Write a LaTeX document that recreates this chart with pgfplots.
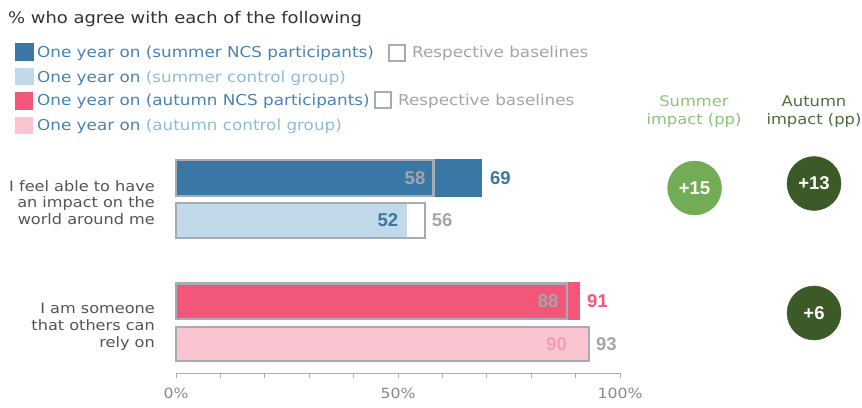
\documentclass[border=0pt]{standalone}
\usepackage{pgfplots}
\pgfplotsset{compat=1.18}
\usepackage{fontspec}
\setmainfont[FakeStretch=1.12]{DejaVu Sans}
\newfontfamily\numfont{Liberation Sans}
\definecolor{ncsblue}{HTML}{3A77A4}
\definecolor{ctlblue}{HTML}{C2D9EA}
\definecolor{legblue}{HTML}{4A82B4}
\definecolor{leglight}{HTML}{8FBBDB}
\definecolor{ncspink}{HTML}{F25678}
\definecolor{ctlpink}{HTML}{FAC4D0}
\definecolor{numpink}{HTML}{F59DB2}
\definecolor{basegray}{HTML}{A5ACB4}
\definecolor{txtgray}{HTML}{A0A6AD}
\definecolor{titlegray}{HTML}{333333}
\definecolor{catgray}{HTML}{555555}
\definecolor{tickgray}{HTML}{888888}
\definecolor{sumgreen}{HTML}{72AD55}
\definecolor{sumtext}{HTML}{8DC27A}
\definecolor{autgreen}{HTML}{3B5A28}
\definecolor{auttext}{HTML}{4F6E3E}
\newcommand{\lf}{\fontsize{15}{18}\selectfont}
\newcommand{\nf}{\numfont\bfseries\fontsize{18.5}{20}\selectfont}
\begin{document}
\begin{tikzpicture}
\path[use as bounding box] (0pt,0pt) rectangle (862pt,-407pt);
% title
\node[anchor=base west, inner sep=0, text=titlegray, font=\fontsize{16}{19}\selectfont] at (8pt,-23.5pt) {\% who agree with each of the following};
% legend swatches
\fill[ncsblue] (15pt,-43pt) rectangle (34pt,-61pt);
\fill[ctlblue] (15pt,-68pt) rectangle (34pt,-85pt);
\fill[ncspink] (15pt,-92pt) rectangle (33pt,-110pt);
\fill[ctlpink] (15pt,-117pt) rectangle (33pt,-134pt);
\draw[basegray, line width=2pt] (389pt,-45pt) rectangle (405pt,-61pt);
\draw[basegray, line width=2pt] (375pt,-92pt) rectangle (391pt,-108pt);
% legend texts
\node[anchor=base west, inner sep=0, font=\lf, text=legblue] at (37pt,-57.5pt) {One year on (summer NCS participants)};
\node[anchor=base west, inner sep=0, font=\lf] at (37pt,-82pt) {\textcolor{legblue}{One year on} \textcolor{leglight}{(summer control group)}};
\node[anchor=base west, inner sep=0, font=\lf, text=legblue] at (37pt,-105.5pt) {One year on (autumn NCS participants)};
\node[anchor=base west, inner sep=0, font=\lf] at (37pt,-130pt) {\textcolor{legblue}{One year on} \textcolor{leglight}{(autumn control group)}};
\node[anchor=base west, inner sep=0, font=\lf, text=txtgray] at (412pt,-57.5pt) {Respective baselines};
\node[anchor=base west, inner sep=0, font=\lf, text=txtgray] at (398pt,-105pt) {Respective baselines};
% impact headers
\node[anchor=base, inner sep=0, font=\fontsize{14.6}{17}\selectfont, text=sumtext] at (694pt,-106pt) {Summer};
\node[anchor=base, inner sep=0, font=\fontsize{14.6}{17}\selectfont, text=sumtext] at (694pt,-124pt) {impact (pp)};
\node[anchor=base, inner sep=0, font=\fontsize{14.6}{17}\selectfont, text=auttext] at (814pt,-106pt) {Autumn};
\node[anchor=base, inner sep=0, font=\fontsize{14.6}{17}\selectfont, text=auttext] at (814pt,-124pt) {impact (pp)};
% category labels
\begin{scope}[every node/.style={anchor=base east, inner sep=0, font=\fontsize{14.4}{17}\selectfont, text=catgray}]
\node at (155pt,-191pt) {I feel able to have};
\node at (155pt,-207pt) {an impact on the};
\node at (155pt,-224pt) {world around me};
\node at (155pt,-313pt) {I am someone};
\node at (155pt,-330.5pt) {that others can};
\node at (155pt,-347.5pt) {rely on};
\end{scope}
\begin{axis}[at={(176pt,-373pt)}, anchor=south west, scale only axis,
  width=444pt, height=223pt, xmin=0, xmax=100, ymin=-373, ymax=-150,
  clip=false, axis x line*=bottom, axis y line=none, ytick=\empty,
  xtick={0,10,...,100}, xticklabels={0\%,,,,,50\%,,,,,100\%},
  tick align=outside, major tick length=5pt,
  x axis line style={draw=basegray, line width=1pt},
  every tick/.style={draw=basegray, line width=1pt},
  /pgf/number format/assume math mode=true,
  xticklabel style={font=\fontsize{14}{16}\selectfont, text=tickgray, yshift=-7pt},
  every axis plot/.append style={bar shift=0pt}]
% row 1: summer NCS 69, baseline 58
\addplot[xbar, bar width=37.5, fill=ncsblue, draw=none] coordinates {(69,-178)};
\addplot[xbar, bar width=35.5, fill=none, draw=basegray, line width=2.2pt] coordinates {(58,-178)};
% row 2: summer control 52, baseline 56
\addplot[xbar, bar width=35.5, fill=white, draw=none] coordinates {(56,-220.5)};
\addplot[xbar, bar width=35.5, fill=ctlblue, draw=none] coordinates {(52,-220.5)};
\addplot[xbar, bar width=35.5, fill=none, draw=basegray, line width=2.2pt] coordinates {(56,-220.5)};
% row 3: autumn NCS 91, baseline 88
\addplot[xbar, bar width=37.5, fill=ncspink, draw=none] coordinates {(91,-301.2)};
\addplot[xbar, bar width=35.5, fill=none, draw=basegray, line width=2.2pt] coordinates {(88,-301.2)};
% row 4: autumn control 90, baseline 93
\addplot[xbar, bar width=34.5, fill=ctlpink, draw=none] coordinates {(93,-344)};
\addplot[xbar, bar width=34.5, fill=ctlpink, draw=none] coordinates {(90,-344)};
\addplot[xbar, bar width=34.5, fill=none, draw=basegray, line width=2.2pt] coordinates {(93,-344)};
% impact circles
\addplot[only marks, color=sumgreen, mark=*, mark size=27pt,
  mark options={fill=sumgreen, draw=sumgreen},
  point meta=explicit symbolic, nodes near coords,
  every node near coord/.style={anchor=center, inner sep=0, font=\nf, text=white}]
  coordinates {(116.8,-188) [+15]};
\addplot[only marks, color=autgreen, mark=*, mark size=27pt,
  mark options={fill=autgreen, draw=autgreen},
  point meta=explicit symbolic, nodes near coords,
  every node near coord/.style={anchor=center, inner sep=0, font=\nf, text=white}]
  coordinates {(143.7,-183.5) [+13] (143.7,-313) [+6]};
% value labels
\node[anchor=west, inner sep=0, font=\nf, text=ncsblue, xshift=7.5pt] at (axis cs:69,-178) {69};
\node[anchor=east, inner sep=0, font=\nf, text=txtgray, xshift=-8pt] at (axis cs:58,-178) {58};
\node[anchor=west, inner sep=0, font=\nf, text=txtgray, xshift=7pt] at (axis cs:56,-220.5) {56};
\node[anchor=east, inner sep=0, font=\nf, text=ncsblue, xshift=-8.5pt] at (axis cs:52,-220.5) {52};
\node[anchor=east, inner sep=0, font=\nf, text=txtgray, xshift=-8pt] at (axis cs:88,-301.2) {88};
\node[anchor=west, inner sep=0, font=\nf, text=ncspink, xshift=7pt] at (axis cs:91,-301.2) {91};
\node[anchor=east, inner sep=0, font=\nf, text=numpink, xshift=-8.5pt] at (axis cs:90,-344) {90};
\node[anchor=west, inner sep=0, font=\nf, text=txtgray, xshift=7pt] at (axis cs:93,-344) {93};
\end{axis}
\end{tikzpicture}
\end{document}
